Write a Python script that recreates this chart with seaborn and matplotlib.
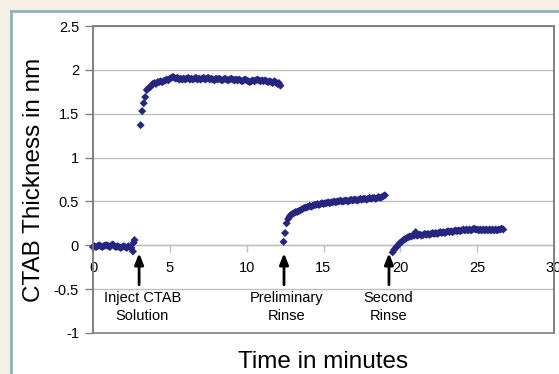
import matplotlib
matplotlib.use("Agg")
import matplotlib.pyplot as plt
from matplotlib.patches import Rectangle
from matplotlib.ticker import FuncFormatter
import pandas as pd
import seaborn as sns

# Film thickness (nm) vs time (min) for each stage of the run
t_baseline = [0.0, 0.1, 0.2, 0.3, 0.4, 0.5, 0.6, 0.7, 0.8, 0.9, 1.0, 1.1, 1.2, 1.3,
              1.4, 1.5, 1.6, 1.7, 1.8, 1.9, 2.0, 2.1, 2.2, 2.3, 2.4, 2.5, 2.6, 2.65, 2.7]
y_baseline = [-0.02, -0.01, -0.02, -0.01, 0.00, -0.01, -0.02, -0.01, 0.00, 0.00, -0.01,
              -0.02, 0.00, 0.01, -0.01, -0.02, -0.01, -0.02, -0.03, -0.02, -0.01, -0.02,
              -0.03, -0.01, -0.02, -0.03, -0.07, 0.03, 0.06]

t_ctab = [3.1, 3.2, 3.3, 3.4, 3.5, 3.6, 3.7, 3.8, 3.9, 4.0, 4.1, 4.2, 4.3, 4.4, 4.5,
          4.6, 4.7, 4.8, 4.9, 5.0, 5.1, 5.2, 5.3, 5.4, 5.5, 5.6, 5.7, 5.8, 5.9, 6.0,
          6.1, 6.2, 6.3, 6.4, 6.5, 6.6, 6.7, 6.8, 6.9, 7.0, 7.1, 7.2, 7.3, 7.4, 7.5,
          7.6, 7.7, 7.8, 7.9, 8.0, 8.1, 8.2, 8.3, 8.4, 8.5, 8.6, 8.7, 8.8, 8.9, 9.0,
          9.1, 9.2, 9.3, 9.4, 9.5, 9.6, 9.7, 9.8, 9.9, 10.0, 10.1, 10.2, 10.3, 10.4,
          10.5, 10.6, 10.7, 10.8, 10.9, 11.0, 11.1, 11.2, 11.3, 11.4, 11.5, 11.6,
          11.7, 11.8, 11.9, 12.0, 12.1, 12.2]
y_ctab = [1.37, 1.53, 1.62, 1.69, 1.77, 1.79, 1.80, 1.82, 1.84, 1.85, 1.84, 1.86,
          1.86, 1.87, 1.86, 1.87, 1.88, 1.89, 1.88, 1.90, 1.91, 1.92, 1.91, 1.90,
          1.91, 1.89, 1.90, 1.89, 1.90, 1.89, 1.90, 1.91, 1.89, 1.90, 1.89, 1.90,
          1.91, 1.89, 1.90, 1.89, 1.90, 1.91, 1.89, 1.90, 1.91, 1.89, 1.90, 1.89,
          1.88, 1.90, 1.89, 1.90, 1.89, 1.88, 1.89, 1.90, 1.89, 1.88, 1.89, 1.90,
          1.89, 1.88, 1.89, 1.88, 1.89, 1.88, 1.87, 1.88, 1.89, 1.88, 1.87, 1.86,
          1.87, 1.88, 1.87, 1.88, 1.89, 1.88, 1.87, 1.88, 1.87, 1.88, 1.87, 1.86,
          1.87, 1.86, 1.85, 1.87, 1.86, 1.84, 1.85, 1.82]

t_rinse1 = [12.4, 12.5, 12.6, 12.7, 12.8, 12.9, 13.0, 13.1, 13.2, 13.3, 13.4, 13.5,
            13.6, 13.7, 13.8, 13.9, 14.0, 14.1, 14.2, 14.3, 14.4, 14.5, 14.6, 14.7,
            14.8, 14.9, 15.0, 15.1, 15.2, 15.3, 15.4, 15.5, 15.6, 15.7, 15.8, 15.9,
            16.0, 16.1, 16.2, 16.3, 16.4, 16.5, 16.6, 16.7, 16.8, 16.9, 17.0, 17.1,
            17.2, 17.3, 17.4, 17.5, 17.6, 17.7, 17.8, 17.9, 18.0, 18.1, 18.2, 18.3,
            18.4, 18.5, 18.6, 18.7, 18.8, 18.9, 19.0]
y_rinse1 = [0.04, 0.14, 0.25, 0.30, 0.33, 0.35, 0.36, 0.37, 0.38, 0.38, 0.39, 0.40,
            0.41, 0.42, 0.43, 0.43, 0.44, 0.45, 0.44, 0.45, 0.46, 0.46, 0.47, 0.46,
            0.47, 0.48, 0.47, 0.48, 0.48, 0.49, 0.48, 0.49, 0.49, 0.50, 0.49, 0.50,
            0.50, 0.51, 0.50, 0.50, 0.51, 0.51, 0.50, 0.51, 0.52, 0.51, 0.52, 0.52,
            0.51, 0.52, 0.53, 0.52, 0.53, 0.53, 0.52, 0.53, 0.54, 0.53, 0.54, 0.54,
            0.53, 0.54, 0.55, 0.54, 0.55, 0.56, 0.57]

t_rinse2 = [19.5, 19.6, 19.7, 19.8, 19.9, 20.0, 20.1, 20.2, 20.3, 20.4, 20.5, 20.6,
            20.7, 20.8, 20.9, 21.0, 21.1, 21.2, 21.3, 21.4, 21.5, 21.6, 21.7, 21.8,
            21.9, 22.0, 22.1, 22.2, 22.3, 22.4, 22.5, 22.6, 22.7, 22.8, 22.9, 23.0,
            23.1, 23.2, 23.3, 23.4, 23.5, 23.6, 23.7, 23.8, 23.9, 24.0, 24.1, 24.2,
            24.3, 24.4, 24.5, 24.6, 24.7, 24.8, 24.9, 25.0, 25.1, 25.2, 25.3, 25.4,
            25.5, 25.6, 25.7, 25.8, 25.9, 26.0, 26.1, 26.2, 26.3, 26.4, 26.5, 26.6, 26.7]
y_rinse2 = [-0.08, -0.05, -0.03, -0.01, 0.01, 0.03, 0.04, 0.06, 0.07, 0.08, 0.09,
            0.10, 0.10, 0.11, 0.11, 0.15, 0.11, 0.12, 0.12, 0.11, 0.12, 0.13, 0.12,
            0.13, 0.12, 0.13, 0.14, 0.13, 0.14, 0.13, 0.14, 0.15, 0.14, 0.15, 0.14,
            0.15, 0.16, 0.15, 0.16, 0.15, 0.16, 0.17, 0.16, 0.17, 0.16, 0.17, 0.18,
            0.17, 0.18, 0.17, 0.18, 0.17, 0.18, 0.19, 0.18, 0.18, 0.17, 0.18, 0.17,
            0.18, 0.17, 0.18, 0.17, 0.18, 0.17, 0.18, 0.17, 0.18, 0.17, 0.18, 0.18,
            0.19, 0.18]

# Event markers: (label lines, arrow x, text x)
events = [
    (["Inject CTAB", "Solution"], 3.0, 3.2),
    (["Preliminary", "Rinse"], 12.43, 12.6),
    (["Second", "Rinse"], 19.26, 19.23),
]

x_ticks = [0, 5, 10, 15, 20, 25, 30]
y_ticks = [-1, -0.5, 0, 0.5, 1, 1.5, 2, 2.5]

sns.set_theme(style="white")
plt.rcParams["font.family"] = ["Liberation Sans", "DejaVu Sans"]

df = pd.concat([
    pd.DataFrame({"t": t_baseline, "h": y_baseline}),
    pd.DataFrame({"t": t_ctab, "h": y_ctab}),
    pd.DataFrame({"t": t_rinse1, "h": y_rinse1}),
    pd.DataFrame({"t": t_rinse2, "h": y_rinse2}),
], ignore_index=True)

W, H = 559, 374
fig = plt.figure(figsize=(W / 100, H / 100), dpi=100)
fig.patch.set_facecolor("#F5EFE4")

# white chart panel with a blue-grey edge
panel = Rectangle((10.5 / W, -0.2), 1.2, (H - 10.5) / H + 0.2,
                  transform=fig.transFigure, facecolor="white",
                  edgecolor="#8EAFC1", linewidth=2, zorder=-10)
fig.patches.append(panel)

ax = fig.add_axes([93 / W, 1 - 333 / H, (554 - 93) / W, (333 - 26) / H])
ax.set_facecolor("white")
ax.set_zorder(1)

grid_c = "#C0C0C0"
frame_c = "#808080"
for yv in y_ticks:
    ax.axhline(yv, color=grid_c, lw=1.0, zorder=1)

sns.scatterplot(data=df, x="t", y="h", marker="D", s=17, color="#262680",
                edgecolor="none", linewidth=0, ax=ax, zorder=3, clip_on=False)

ax.set_xlim(0, 30)
ax.set_ylim(-1, 2.5)
ax.set_xlabel("")
ax.set_ylabel("")

# frame
for side in ["top", "right", "left"]:
    ax.spines[side].set_color(frame_c)
    ax.spines[side].set_linewidth(1.2)
ax.add_patch(Rectangle((0, 0), 1, 1, transform=ax.transAxes, fill=False,
                       edgecolor=frame_c, linewidth=1.2, zorder=4, clip_on=False))

# x axis runs through zero
ax.spines["bottom"].set_position(("data", 0))
ax.spines["bottom"].set_color(grid_c)
ax.spines["bottom"].set_linewidth(1.0)

ax.set_xticks(x_ticks)
ax.set_yticks(y_ticks)
ax.yaxis.set_major_formatter(FuncFormatter(lambda v, p: f"{v:g}"))
ax.tick_params(axis="x", direction="out", length=5, width=1, color=grid_c,
               pad=6, labelsize=10.5, labelcolor="black", bottom=True)
ax.tick_params(axis="y", direction="out", length=6, width=1, color=frame_c,
               pad=4, labelsize=10.5, labelcolor="black", left=True)

# event arrows and captions
for lines, xa, xt in events:
    ax.annotate("", xy=(xa, -0.09), xytext=(xa, -0.45),
                arrowprops=dict(arrowstyle="-|>,head_length=0.55,head_width=0.22",
                                color="black", lw=2, shrinkA=0, shrinkB=0),
                zorder=5, annotation_clip=False)
    ax.text(xt, -0.60, lines[0], ha="center", va="center", fontsize=10.5, color="black")
    ax.text(xt, -0.81, lines[1], ha="center", va="center", fontsize=10.5, color="black")

fig.text(323.5 / W, 1 - 362 / H, "Time in minutes", ha="center", va="center",
         fontsize=17.5, color="black")
fig.text(34 / W, 1 - 180 / H, "CTAB Thickness in nm", ha="center", va="center",
         rotation=90, fontsize=17.5, color="black")

fig.savefig("out.png", dpi=100, facecolor=fig.get_facecolor())
